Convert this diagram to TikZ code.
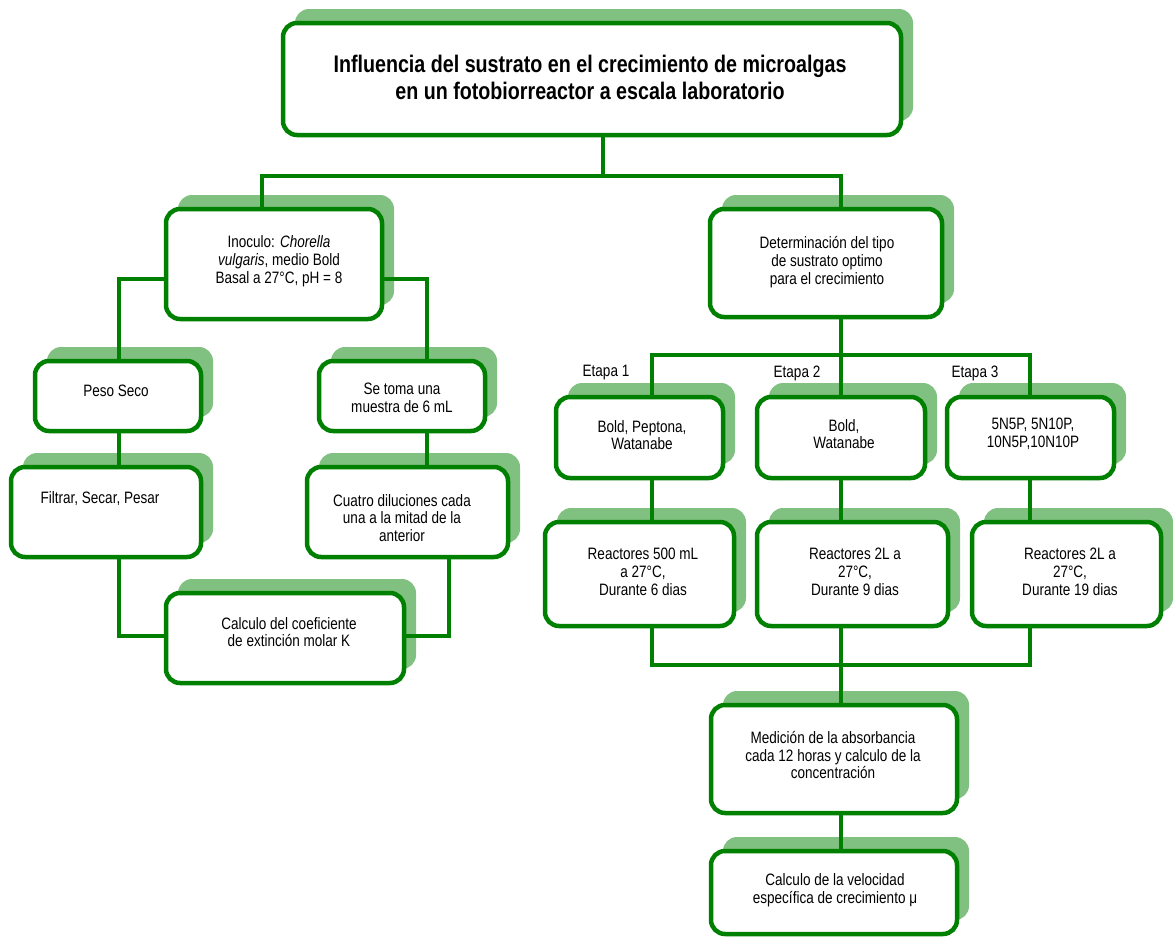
\documentclass[tikz,border=0pt]{standalone}
\usepackage{fontspec}
\setmainfont[FakeStretch=0.82]{Liberation Sans}
\newfontfamily\titlefont[FakeStretch=0.82]{Liberation Sans}
\usetikzlibrary{shadows}
\definecolor{boxgreen}{RGB}{0,128,0}
\definecolor{shadowgreen}{RGB}{128,192,128}
\tikzset{
  box/.style={draw=boxgreen, line width=4.5pt, fill=white, rounded corners=14pt,
    general shadow={fill=shadowgreen, shadow xshift=12pt, shadow yshift=14pt},
    inner sep=0pt},
  conn/.style={draw=boxgreen, line width=4pt},
  txt/.style={align=center, font=\fontsize{16.5}{17.8}\selectfont, inner sep=0pt, text=black},
  ttl/.style={align=center, font=\titlefont\bfseries\fontsize{24}{27}\selectfont, inner sep=0pt, text=black},
}
\begin{document}
\begin{tikzpicture}[x=1pt,y=-1pt]
\useasboundingbox (0,0) rectangle (1173,937);
% boxes
\node[box, minimum width=618pt, minimum height=112pt] (title) at (592,79) {};
\node[box, minimum width=216pt, minimum height=110pt] (inoc) at (274,264) {};
\node[box, minimum width=232pt, minimum height=108pt] (det) at (826,263) {};
\node[box, minimum width=166pt, minimum height=70pt] (peso) at (118,396) {};
\node[box, minimum width=190pt, minimum height=90pt] (filtrar) at (106,512) {};
\node[box, minimum width=166pt, minimum height=70pt] (setoma) at (402,396) {};
\node[box, minimum width=201pt, minimum height=90pt] (cuatro) at (407.5,512) {};
\node[box, minimum width=238pt, minimum height=90pt] (calc) at (285,638) {};
\node[box, minimum width=167pt, minimum height=81pt] (b1) at (639.5,437.5) {};
\node[box, minimum width=168pt, minimum height=81pt] (b2) at (841,437.5) {};
\node[box, minimum width=167pt, minimum height=81pt] (b3) at (1030.5,437.5) {};
\node[box, minimum width=189pt, minimum height=104pt] (r1) at (639.5,574) {};
\node[box, minimum width=191pt, minimum height=104pt] (r2) at (852.5,574) {};
\node[box, minimum width=189pt, minimum height=104pt] (r3) at (1066.5,574) {};
\node[box, minimum width=246pt, minimum height=108pt] (med) at (834,759) {};
\node[box, minimum width=246pt, minimum height=83pt] (vel) at (834,892.5) {};
% texts
\node[ttl] (titlet) at (590,77) {Influencia del sustrato en el crecimiento de microalgas\\en un fotobiorreactor a escala laboratorio};
\node[txt] (inoct) at (279,261) {Inoculo: \textit{Chorella}\\\textit{vulgaris}, medio Bold\\Basal a 27°C, pH = 8};
\node[txt] (dett) at (827,262) {Determinación del tipo\\de sustrato optimo\\para el crecimiento};
\node[txt] (pesot) at (116,391) {Peso Seco};
\node[txt] (filtrart) at (100,499) {Filtrar, Secar, Pesar};
\node[txt] (setomat) at (402,398) {Se toma una\\muestra de 6 mL};
\node[txt] (cuatrot) at (402,518) {Cuatro diluciones cada\\una a la mitad de la\\anterior};
\node[txt] (calct) at (289,632) {Calculo del coeficiente\\de extinción molar K};
\node[txt] (b1t) at (642,435) {Bold, Peptona,\\Watanabe};
\node[txt] (b2t) at (844,434) {Bold,\\Watanabe};
\node[txt] (b3t) at (1033,434) {5N5P, 5N10P,\\10N5P,10N10P};
\node[txt] (r1t) at (643,572) {Reactores 500 mL\\a 27°C,\\Durante 6 dias};
\node[txt] (r2t) at (855,572) {Reactores 2L a\\27°C,\\Durante 9 dias};
\node[txt] (r3t) at (1070,572) {Reactores 2L a\\27°C,\\Durante 19 dias};
\node[txt] (medt) at (833,755) {Medición de la absorbancia\\cada 12 horas y calculo de la\\concentración};
\node[txt] (velt) at (835,890) {Calculo de la velocidad\\específica de crecimiento μ};
\node[txt] (et1) at (606,373) {Etapa 1};
\node[txt] (et2) at (797,373) {Etapa 2};
\node[txt] (et3) at (975,373) {Etapa 3};
% connector coordinates
\coordinate (t1) at (603,176);
\coordinate (ha) at (262,176);
\coordinate (hb) at (841,176);
\coordinate (la) at (119,279);
\coordinate (ra) at (427,279);
\coordinate (lb) at (119,636);
\coordinate (rb) at (449,636);
\coordinate (dv) at (841,355);
\coordinate (e1) at (652,355);
\coordinate (e3) at (1030,355);
\coordinate (f1) at (652,665);
\coordinate (f3) at (1030,665);
% connectors
\draw[conn] (t1 |- title.south) -- (t1);
\draw[conn] (ha |- inoc.north) -- (ha) -- (hb) -- (hb |- det.north);
\draw[conn] (la |- peso.north) -- (la) -- (la -| inoc.west);
\draw[conn] (inoc.east |- ra) -- (ra) -- (ra |- setoma.north);
\draw[conn] (la |- peso.south) -- (la |- filtrar.north);
\draw[conn] (ra |- setoma.south) -- (ra |- cuatro.north);
\draw[conn] (lb |- filtrar.south) -- (lb) -- (lb -| calc.west);
\draw[conn] (rb |- cuatro.south) -- (rb) -- (rb -| calc.east);
\draw[conn] (dv |- det.south) -- (dv);
\draw[conn] (e1 |- b1.north) -- (e1) -- (e3) -- (e3 |- b3.north);
\draw[conn] (dv) -- (dv |- b2.north);
\draw[conn] (e1 |- b1.south) -- (e1 |- r1.north);
\draw[conn] (dv |- b2.south) -- (dv |- r2.north);
\draw[conn] (e3 |- b3.south) -- (e3 |- r3.north);
\draw[conn] (e1 |- r1.south) -- (f1) -- (f3) -- (e3 |- r3.south);
\draw[conn] (dv |- r2.south) -- (dv |- med.north);
\draw[conn] (dv |- med.south) -- (dv |- vel.north);
\end{tikzpicture}
\end{document}
